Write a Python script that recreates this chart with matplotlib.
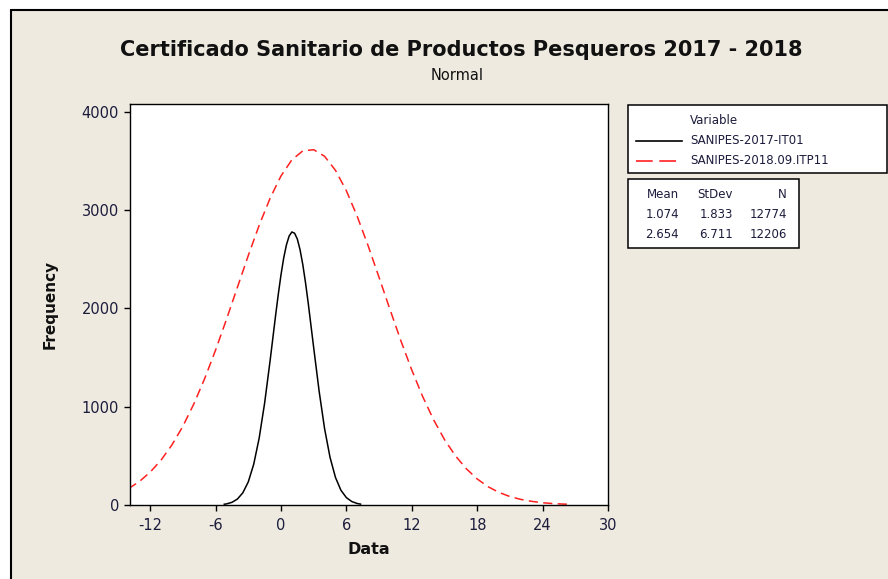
import matplotlib
matplotlib.use("Agg")
import matplotlib.pyplot as plt
from matplotlib.patches import Rectangle

plt.rcParams["axes.unicode_minus"] = False

# Data
x_2017 = [-5.2, -5.0, -4.5, -4.0, -3.5, -3.0, -2.5, -2.0, -1.5, -1.0, -0.5, -0.25,
          0.0, 0.25, 0.5, 0.75, 1.0, 1.25, 1.5, 1.75, 2.0, 2.25, 2.5, 3.0, 3.5,
          4.0, 4.5, 5.0, 5.5, 6.0, 6.5, 7.0, 7.3]
y_2017 = [8, 11, 27, 60, 124, 235, 415, 681, 1037, 1466, 1923, 2141,
          2341, 2513, 2647, 2737, 2778, 2765, 2706, 2597, 2447, 2263, 2054, 1601, 1158,
          777, 485, 280, 150, 75, 35, 15, 9]

x_2018 = [-14, -13, -12, -11, -10, -9, -8, -7, -6, -5, -4, -3, -2, -1, 0, 1, 2, 3,
          4, 5, 6, 7, 8, 9, 10, 11, 12, 13, 14, 15, 16, 17, 18, 19, 20, 21, 22,
          23, 24, 25, 26, 26.3]
y_2018 = [166, 238, 334, 457, 612, 801, 1027, 1286, 1576, 1889, 2214, 2538, 2846,
          3121, 3348, 3512, 3603, 3615, 3548, 3405, 3197, 2935, 2636, 2315, 1989,
          1671, 1373, 1103, 867, 666, 501, 369, 265, 186, 128, 86, 57, 37, 23, 14,
          9, 8]

series_names = ["SANIPES-2017-IT01", "SANIPES-2018.09.ITP11"]
stat_header = ["Mean", "StDev", "N"]
stat_rows = [["1.074", "1.833", "12774"], ["2.654", "6.711", "12206"]]
x_ticks = [-12, -6, 0, 6, 12, 18, 24, 30]
y_ticks = [0, 1000, 2000, 3000, 4000]

bg = "#eeeae0"
txt = "#1c1c3c"
red = "#ff2020"


def px(x, y):
    # pixel position (from top-left) -> figure fraction
    return x / 888, 1 - y / 579


fig = plt.figure(figsize=(8.88, 5.79), dpi=100)
fig.patch.set_facecolor("white")

# Outer frame of the graph window
fig.patches.append(Rectangle((11 / 888, -0.05), 1.0, 1 - 10 / 579 + 0.05,
                             transform=fig.transFigure, facecolor=bg,
                             edgecolor="black", linewidth=1.5, zorder=-10))

ax = fig.add_axes([130 / 888, 1 - 505 / 579, 478 / 888, 401 / 579])
ax.set_zorder(1)
ax.set_facecolor("white")

ax.plot(x_2017, y_2017, color="black", linewidth=1.1)
ax.plot(x_2018, y_2018, color=red, linewidth=1.1, dashes=(6, 3.5))

ax.set_xlim(-13.85, 30)
ax.set_ylim(0, 4080)
ax.set_xticks(x_ticks)
ax.set_yticks(y_ticks)
ax.tick_params(direction="out", length=4, width=1, labelsize=10.5,
               labelcolor=txt)
ax.tick_params(axis="x", pad=5)
ax.tick_params(axis="y", pad=4)
for s in ax.spines.values():
    s.set_linewidth(1.0)

ax.set_xlabel("Data", fontsize=11.5, fontweight="bold", color="#111111", labelpad=7)
ax.set_ylabel("Frequency", fontsize=11, fontweight="bold", color="#111111", labelpad=17)

fig.text(*px(461, 50), "Certificado Sanitario de Productos Pesqueros 2017 - 2018",
         ha="center", va="center", fontsize=15, fontweight="bold", color="#111111")
fig.text(*px(457, 76), "Normal", ha="center", va="center",
         fontsize=10.5, color="#111111")

# Legend box
fig.patches.append(Rectangle(px(628, 173), (887 - 628) / 888, 68 / 579,
                             transform=fig.transFigure, facecolor="white",
                             edgecolor="black", linewidth=1.1, zorder=2))
fig.text(*px(690, 120), "Variable", fontsize=8.5, color=txt, va="center", zorder=3)
leg_y = [141, 161]
styles = [dict(color="black"), dict(color=red, dashes=(10, 4))]
for name, yy, st in zip(series_names, leg_y, styles):
    fig.add_artist(plt.Line2D([636 / 888, 682 / 888], [1 - yy / 579] * 2,
                              transform=fig.transFigure, linewidth=1.2, zorder=3, **st))
    fig.text(*px(690, yy), name, fontsize=8.5, color=txt, va="center", zorder=3)

# Stats table box
fig.patches.append(Rectangle(px(628, 248), (799 - 628) / 888, 69 / 579,
                             transform=fig.transFigure, facecolor="white",
                             edgecolor="black", linewidth=1.1, zorder=2))
col_right = [679, 733, 787]
row_y = [195, 215, 235]
for i, h in enumerate(stat_header):
    fig.text(*px(col_right[i], row_y[0]), h, fontsize=8.5, color=txt,
             ha="right", va="center", zorder=3)
for r, row in enumerate(stat_rows):
    for i, v in enumerate(row):
        fig.text(*px(col_right[i], row_y[r + 1]), v, fontsize=8.5, color=txt,
                 ha="right", va="center", zorder=3)

fig.savefig("out.png", dpi=100, facecolor=fig.get_facecolor())
